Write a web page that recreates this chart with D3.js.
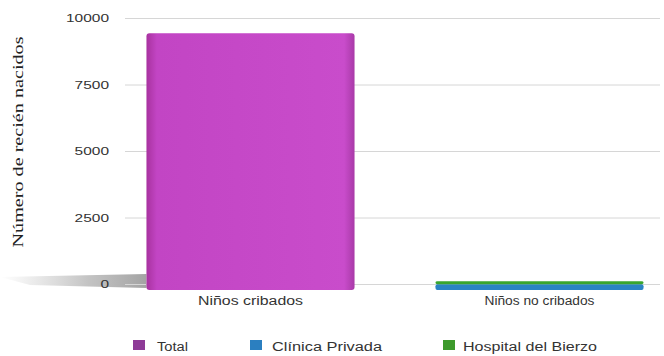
<!DOCTYPE html>
<html>
<head>
	<title>cribado recien nacidos</title>
	<style>
		body { margin: 0; background: #fff; }
		svg { display: block; font-family: "Liberation Sans", Arial, sans-serif; }
	</style>
</head>
<body>
<div class="chart"></div>
<script src="https://cdn.jsdelivr.net/npm/d3@7"></script>
<script>
	// data
	let categories = ["Niños cribados", "Niños no cribados"];
	let seriesNames = ["Total", "Clínica Privada", "Hospital del Bierzo"];
	let totalValues = [9650, 0];
	let privadaValues = [0, 220];
	let bierzoValues = [0, 110];
	let yTicks = [0, 2500, 5000, 7500, 10000];

	let colors = {"Total": "#c446c6", "Clínica Privada": "#2b84c4", "Hospital del Bierzo": "#3aa62e"};
	let legendColors = {"Total": "#8e3b97", "Clínica Privada": "#2b7fc0", "Hospital del Bierzo": "#3d9a2c"};

	window.onload = function(){
		draw();
	}

	function draw(){
		let width = 664, height = 356;
		let depth = 6; // 3d drop of the bars under the zero line

		let svg = d3.select(".chart").append("svg")
			.attr("width", width)
			.attr("height", height);

		let scaleX = d3.scaleBand()
			.domain(categories)
			.range([106, 684])
			.paddingInner(0.28)
			.paddingOuter(0.14);
		let scaleY = d3.scaleLinear()
			.domain([0, 10000])
			.range([284, 18]);

		// gradients
		let defs = svg.append("defs");
		let g1 = defs.append("linearGradient").attr("id", "barGrad").attr("x1", 0).attr("x2", 1);
		g1.append("stop").attr("offset", "0%").attr("stop-color", "#a8329f");
		g1.append("stop").attr("offset", "5%").attr("stop-color", "#c245c4");
		g1.append("stop").attr("offset", "95%").attr("stop-color", "#c94ccb");
		g1.append("stop").attr("offset", "100%").attr("stop-color", "#a93aa8");
		let g2 = defs.append("linearGradient").attr("id", "shadowGrad").attr("x1", 0).attr("x2", 1);
		g2.append("stop").attr("offset", "0%").attr("stop-color", "#bbb").attr("stop-opacity", 0);
		g2.append("stop").attr("offset", "60%").attr("stop-color", "#aaa").attr("stop-opacity", 0.7);
		g2.append("stop").attr("offset", "100%").attr("stop-color", "#999").attr("stop-opacity", 0.9);

		// floor shadow on the left of the zero line
		let y0 = scaleY(0);
		let x0 = scaleX(categories[0]);
		svg.append("path")
			.attr("d", "M0," + (y0 - 7) + " L" + x0 + "," + (y0 - 10) + " L" + x0 + "," + (y0 + 4) + " L30," + (y0 + 1) + " Z")
			.attr("fill", "url(#shadowGrad)");

		// axis + grid
		let axisY = d3.axisLeft(scaleY)
			.tickValues(yTicks)
			.tickSize(-535)
			.tickPadding(16)
			.tickFormat(d3.format("d"));
		let ag = svg.append("g")
			.attr("transform", "translate(125,0)")
			.call(axisY);
		ag.select(".domain").remove();
		ag.selectAll(".tick line").attr("stroke", "#d6d6d6").attr("stroke-width", 1);
		ag.selectAll(".tick text")
			.attr("fill", "#333")
			.attr("textLength", d => String(d).length * 8.6)
			.attr("lengthAdjust", "spacingAndGlyphs")
			.style("font-size", "11.5px");

		// total bar
		svg.selectAll(".bar-total")
			.data(categories.map((c, i) => ({c: c, v: totalValues[i]})).filter(d => d.v > 0))
			.enter()
			.append("rect")
			.attr("class", "bar-total")
			.attr("x", d => scaleX(d.c))
			.attr("y", d => scaleY(d.v) + depth)
			.attr("width", scaleX.bandwidth())
			.attr("height", d => scaleY(0) - scaleY(d.v))
			.attr("rx", 3)
			.attr("fill", "url(#barGrad)");

		// stacked small bars
		let rows = categories.map((c, i) => ({cat: c, "Clínica Privada": privadaValues[i], "Hospital del Bierzo": bierzoValues[i]}));
		let stack = d3.stack().keys(["Clínica Privada", "Hospital del Bierzo"])(rows);
		svg.selectAll(".layer")
			.data(stack)
			.enter()
			.append("g")
			.attr("fill", d => colors[d.key])
			.selectAll("rect")
			.data(d => d.filter(p => p[1] > p[0]))
			.enter()
			.append("rect")
			.attr("x", d => scaleX(d.data.cat))
			.attr("y", d => scaleY(d[1]) + depth)
			.attr("width", scaleX.bandwidth())
			.attr("height", d => scaleY(d[0]) - scaleY(d[1]))
			.attr("rx", 2);

		// category labels
		let catWidths = [105, 110];
		svg.selectAll(".cat")
			.data(categories)
			.enter()
			.append("text")
			.attr("x", d => scaleX(d) + scaleX.bandwidth() / 2)
			.attr("y", 305)
			.attr("text-anchor", "middle")
			.attr("fill", "#333")
			.attr("textLength", (d, i) => catWidths[i])
			.attr("lengthAdjust", "spacingAndGlyphs")
			.style("font-size", "12px")
			.text(d => d);

		// y title
		svg.append("text")
			.attr("transform", "translate(23,142) rotate(-90)")
			.attr("text-anchor", "middle")
			.attr("fill", "#222")
			.attr("textLength", 211)
			.attr("lengthAdjust", "spacingAndGlyphs")
			.style("font-family", "'Liberation Serif', 'Times New Roman', serif")
			.style("font-size", "15px")
			.text("Número de recién nacidos");

		// legend
		let legendX = [133, 250, 443];
		let legendTextX = [24, 22, 20];
		let legendW = [31, 110, 134];
		let lg = svg.selectAll(".legend")
			.data(seriesNames)
			.enter()
			.append("g")
			.attr("transform", (d, i) => "translate(" + legendX[i] + ",340)");
		lg.append("rect")
			.attr("width", 12)
			.attr("height", 10)
			.attr("fill", d => legendColors[d]);
		lg.append("text")
			.attr("x", (d, i) => legendTextX[i])
			.attr("y", 11)
			.attr("fill", "#333")
			.attr("textLength", (d, i) => legendW[i])
			.attr("lengthAdjust", "spacingAndGlyphs")
			.style("font-size", "12px")
			.text(d => d);
	}
</script>
</body>
</html>
